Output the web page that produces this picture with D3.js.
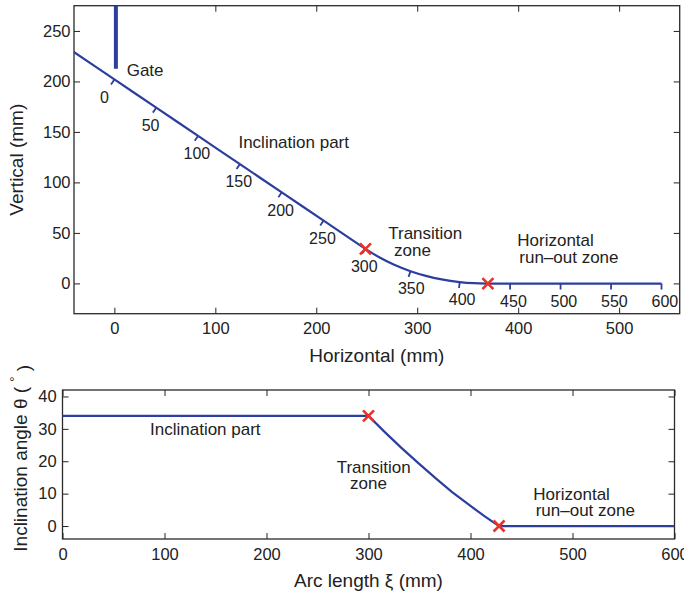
<!DOCTYPE html>
<html>
<head>
<meta charset="utf-8">
<script src="https://cdn.jsdelivr.net/npm/d3@7"></script>
<style>
  body { margin: 0; background: #fff; }
  svg { display: block; }
  text { font-family: "Liberation Sans", Arial, Helvetica, sans-serif; fill: #222; }
</style>
</head>
<body>
<svg id="fig" width="684" height="596"></svg>
<script>
// Arc length along the chute (mm) and the local inclination angle (deg)
const arcLength = [-50, 0, 50, 100, 150, 200, 250, 300, 316, 332, 350, 366, 382, 400, 414, 428, 450, 500, 550, 600];
const angleDeg  = [34, 34, 34, 34, 34, 34, 34, 34, 29.0, 24.2, 19.1, 14.7, 10.5, 6.2, 3.0, 0, 0, 0, 0, 0];

// Profile point at arc length 0 (mm)
const originX = 0;
const originY = 202;

// Gate: horizontal position and lower edge (mm)
const gateX = 1.5;
const gateBottom = 212.5;

// Arc lengths where the transition zone begins and ends (mm)
const zoneBounds = [300, 428];

// Arc-length markers along the profile
const arcTicks = [0, 50, 100, 150, 200, 250, 300, 350, 400, 450, 500, 550, 600];

// Axis ticks
const profXTicks = [0, 100, 200, 300, 400, 500];
const profYTicks = [0, 50, 100, 150, 200, 250];
const angXTicks  = [0, 100, 200, 300, 400, 500, 600];
const angYTicks  = [0, 10, 20, 30, 40];

const BLUE = "#2c3e9e";
const RED = "#e8312a";
const INK = "#222";
const rad = d => d * Math.PI / 180;

// Chute profile (x, y) obtained by integrating the inclination along the arc
const profile = [{ s: arcLength[0], a: angleDeg[0], x: 0, y: 0 }];
for (let i = 1; i < arcLength.length; i++) {
  const ds = arcLength[i] - arcLength[i - 1];
  const p = profile[i - 1];
  const a0 = rad(angleDeg[i - 1]), a1 = rad(angleDeg[i]);
  profile.push({
    s: arcLength[i],
    a: angleDeg[i],
    x: p.x + ds * (Math.cos(a0) + Math.cos(a1)) / 2,
    y: p.y - ds * (Math.sin(a0) + Math.sin(a1)) / 2
  });
}
const ref = profile.find(d => d.s === 0);
const shiftX = originX - ref.x, shiftY = originY - ref.y;
profile.forEach(d => { d.x += shiftX; d.y += shiftY; });

const svg = d3.select("#fig");

// ---------- shared helpers ----------
function frame(g, x, y, xt, yt, box, padX, padY) {
  const ax = g.append("g").attr("transform", `translate(0,${box.b})`)
    .call(d3.axisBottom(x).tickValues(xt).tickSizeInner(-6).tickSizeOuter(0).tickPadding(padX));
  const axT = g.append("g").attr("transform", `translate(0,${box.t})`)
    .call(d3.axisTop(x).tickValues(xt).tickSizeInner(-6).tickSizeOuter(0).tickFormat(""));
  const ay = g.append("g").attr("transform", `translate(${box.l},0)`)
    .call(d3.axisLeft(y).tickValues(yt).tickSizeInner(-6).tickSizeOuter(0).tickPadding(padY));
  const ayR = g.append("g").attr("transform", `translate(${box.r},0)`)
    .call(d3.axisRight(y).tickValues(yt).tickSizeInner(-6).tickSizeOuter(0).tickFormat(""));
  [ax, axT, ay, ayR].forEach(a => {
    a.select(".domain").remove();
    a.attr("font-family", null).attr("font-size", 16.5);
    a.selectAll("line").attr("stroke", INK).attr("stroke-width", 1);
    a.selectAll("text").attr("fill", INK);
  });
  g.append("rect")
    .attr("x", box.l).attr("y", box.t)
    .attr("width", box.r - box.l).attr("height", box.b - box.t)
    .attr("fill", "none").attr("stroke", "#2a2a2a").attr("stroke-width", 1.3);
}

function cross(g, cx, cy) {
  const h = 5.5;
  g.append("path")
    .attr("d", `M${cx - h},${cy - h}L${cx + h},${cy + h}M${cx - h},${cy + h}L${cx + h},${cy - h}`)
    .attr("stroke", RED).attr("stroke-width", 2.6).attr("fill", "none");
}

function note(g, px, py, str) {
  g.append("text").attr("x", px).attr("y", py).attr("font-size", 17).text(str);
}

// ---------- upper panel: chute profile ----------
const P = { l: 74, t: 5.7, r: 679.7, b: 313.7 };
const x1 = d3.scaleLinear([-40, 560], [P.l, P.r]);
const y1 = d3.scaleLinear([-30, 275], [P.b, P.t]);
const upper = svg.append("g");

upper.append("clipPath").attr("id", "clipUpper")
  .append("rect").attr("x", P.l).attr("y", P.t).attr("width", P.r - P.l).attr("height", P.b - P.t);

frame(upper, x1, y1, profXTicks, profYTicks, P, 9, 3.5);

const plotUpper = upper.append("g").attr("clip-path", "url(#clipUpper)");

// gate
plotUpper.append("line")
  .attr("x1", x1(gateX)).attr("x2", x1(gateX))
  .attr("y1", y1(280)).attr("y2", y1(gateBottom))
  .attr("stroke", BLUE).attr("stroke-width", 4);

// profile
plotUpper.append("path")
  .datum(profile)
  .attr("d", d3.line().x(d => x1(d.x)).y(d => y1(d.y)).curve(d3.curveCatmullRom))
  .attr("fill", "none").attr("stroke", BLUE).attr("stroke-width", 2.2);

// arc-length markers and labels
arcTicks.forEach(t => {
  const d = profile.find(p => p.s === t);
  const px = x1(d.x), py = y1(d.y), a = rad(d.a);
  upper.append("line")
    .attr("x1", px).attr("y1", py)
    .attr("x2", px - 6 * Math.sin(a)).attr("y2", py + 6 * Math.cos(a))
    .attr("stroke", BLUE).attr("stroke-width", 1.8);
  upper.append("text")
    .attr("x", px - 10 - 4.5 * Math.sin(a) / Math.sin(rad(34)))
    .attr("y", py + 17.7).attr("dy", "0.35em")
    .attr("font-size", 16).text(t);
});

zoneBounds.forEach(s => {
  const d = profile.find(p => p.s === s);
  cross(upper, x1(d.x), y1(d.y));
});

note(upper, x1(12.2), y1(205.4), "Gate");
note(upper, x1(122.9), y1(134.1), "Inclination part");
note(upper, x1(271.3), y1(43.7), "Transition");
note(upper, x1(277.0), y1(27.1), "zone");
note(upper, x1(399.1), y1(37.3), "Horizontal");
note(upper, x1(401.1), y1(20.2), "run\u2013out zone");

upper.append("text")
  .attr("x", (P.l + P.r) / 2).attr("y", 361.5)
  .attr("text-anchor", "middle").attr("font-size", 19)
  .text("Horizontal (mm)");
upper.append("text")
  .attr("transform", `translate(23,${(P.t + P.b) / 2}) rotate(-90)`)
  .attr("text-anchor", "middle").attr("font-size", 19)
  .text("Vertical (mm)");

// ---------- lower panel: inclination angle ----------
const Q = { l: 62.5, t: 390, r: 674.5, b: 539 };
const x2 = d3.scaleLinear([0, 600], [Q.l, Q.r]);
const y2 = d3.scaleLinear([-4, 42], [Q.b, Q.t]);
const lower = svg.append("g");

lower.append("clipPath").attr("id", "clipLower")
  .append("rect").attr("x", Q.l).attr("y", Q.t).attr("width", Q.r - Q.l).attr("height", Q.b - Q.t);

frame(lower, x2, y2, angXTicks, angYTicks, Q, 9.3, 5.8);

const series = arcLength.map((s, i) => ({ s, a: angleDeg[i] }));
lower.append("g").attr("clip-path", "url(#clipLower)")
  .append("path")
  .datum(series)
  .attr("d", d3.line().x(d => x2(d.s)).y(d => y2(d.a)))
  .attr("fill", "none").attr("stroke", BLUE).attr("stroke-width", 2.2);

zoneBounds.forEach(s => {
  const d = series.find(p => p.s === s);
  cross(lower, x2(d.s), y2(d.a));
});

note(lower, x2(85.8), y2(28.1), "Inclination part");
note(lower, x2(268.8), y2(16.3), "Transition");
note(lower, x2(281.9), y2(11.4), "zone");
note(lower, x2(461.6), y2(8.0), "Horizontal");
note(lower, x2(463.9), y2(3.2), "run\u2013out zone");

lower.append("text")
  .attr("x", (Q.l + Q.r) / 2).attr("y", 586.5)
  .attr("text-anchor", "middle").attr("font-size", 19)
  .text("Arc length \u03BE (mm)");

const yl = lower.append("text")
  .attr("transform", `translate(26.5,551.7) rotate(-90)`)
  .attr("text-anchor", "start").attr("font-size", 19);
yl.append("tspan").text("Inclination angle \u03B8 ( ");
yl.append("tspan").attr("dy", "-0.55em").attr("font-size", 13).text("\u00B0");
yl.append("tspan").attr("dy", "0.55em").text(" )");
</script>
</body>
</html>
